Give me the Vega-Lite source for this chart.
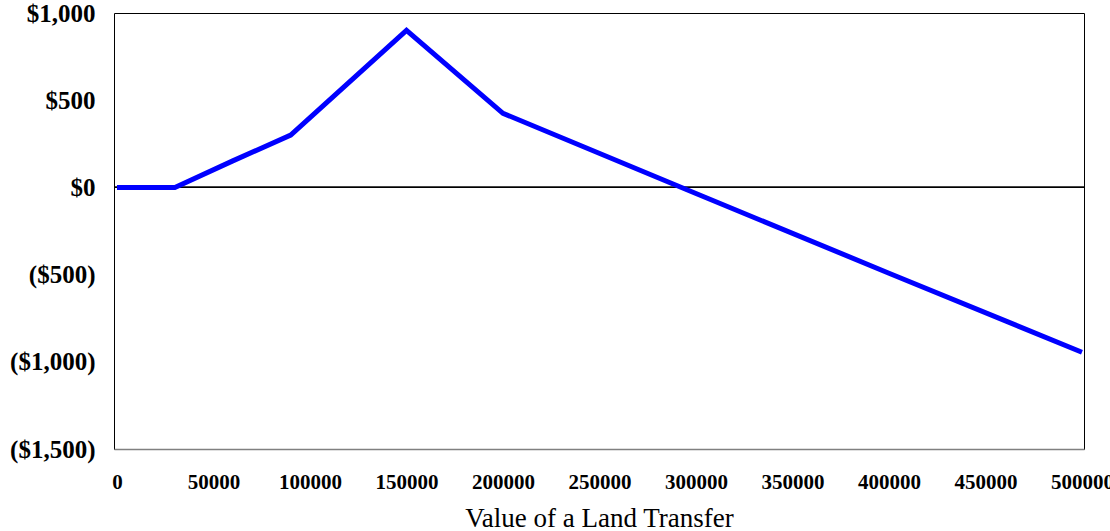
{
  "$schema": "https://vega.github.io/schema/vega-lite/v6.json",
  "width": 970,
  "height": 436,
  "autosize": {"type": "none"},
  "padding": {"left": 114, "top": 13, "right": 26, "bottom": 82},
  "background": "white",
  "config": {
    "view": {"stroke": "#000000", "strokeWidth": 1},
    "font": "Liberation Serif"
  },
  "data": {
    "values": [
      {"value": 0, "change": 0},
      {"value": 10000, "change": 0},
      {"value": 20000, "change": 0},
      {"value": 30000, "change": 0},
      {"value": 60000, "change": 152},
      {"value": 90000, "change": 300},
      {"value": 150000, "change": 900},
      {"value": 200000, "change": 425},
      {"value": 300000, "change": -35},
      {"value": 400000, "change": -492},
      {"value": 500000, "change": -945}
    ]
  },
  "layer": [
    {
      "mark": {"type": "rule", "color": "#000000", "strokeWidth": 1},
      "encoding": {"y": {"datum": 0, "type": "quantitative"}}
    },
    {
      "mark": {"type": "line", "color": "#0000FF", "strokeWidth": 5, "strokeJoin": "miter", "strokeCap": "butt"},
      "encoding": {
        "x": {
          "field": "value",
          "type": "quantitative",
          "scale": {"domain": [-1550, 501050], "nice": false, "zero": false},
          "axis": {
            "title": "Value of a Land Transfer",
            "titleFont": "Liberation Serif",
            "titleFontSize": 27,
            "titleFontWeight": "normal",
            "titleColor": "#000000",
            "titleBaseline": "alphabetic",
            "titleY": 77,
            "values": [0, 50000, 100000, 150000, 200000, 250000, 300000, 350000, 400000, 450000, 500000],
            "format": "d",
            "labelFont": "Liberation Serif",
            "labelFontSize": 21,
            "labelFontWeight": "bold",
            "labelColor": "#000000",
            "labelPadding": 22,
            "labelOverlap": false,
            "labelFlush": false,
            "ticks": false,
            "grid": false,
            "domain": true,
            "domainColor": "#808080",
            "domainWidth": 1.5
          }
        },
        "y": {
          "field": "change",
          "type": "quantitative",
          "scale": {"domain": [-1500, 1000], "nice": false},
          "axis": {
            "title": null,
            "values": [-1500, -1000, -500, 0, 500, 1000],
            "labelExpr": "datum.value < 0 ? '(' + format(-datum.value, '$,') + ')' : format(datum.value, '$,')",
            "labelFont": "Liberation Serif",
            "labelFontSize": 25,
            "labelFontWeight": "bold",
            "labelColor": "#000000",
            "labelPadding": 19,
            "labelOverlap": false,
            "labelFlush": false,
            "ticks": false,
            "grid": false,
            "domain": false
          }
        }
      }
    }
  ]
}
